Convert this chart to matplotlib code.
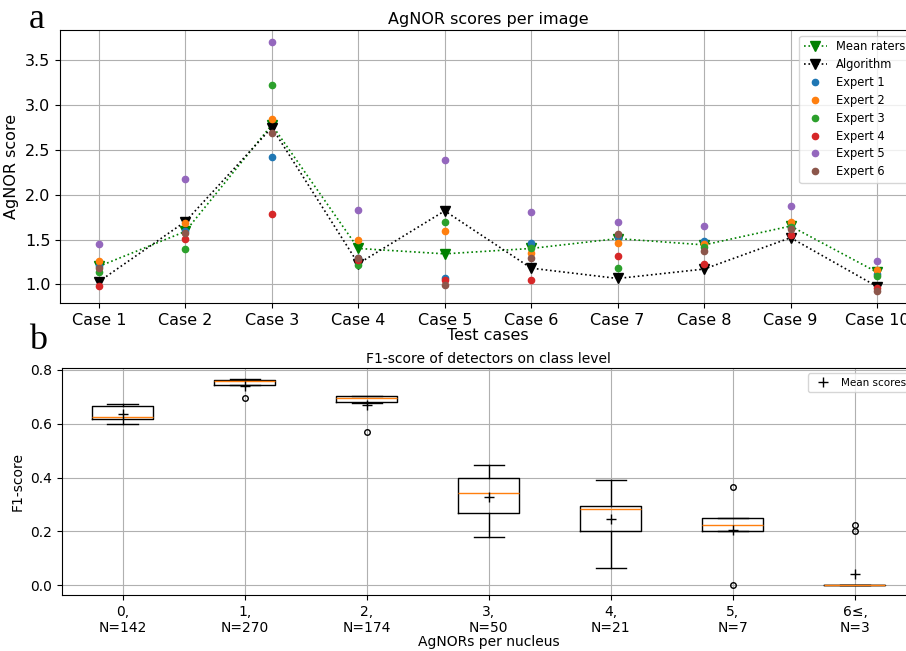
import matplotlib
matplotlib.use('Agg')
import matplotlib.pyplot as plt
import numpy as np

# panel a: AgNOR score per test case
cases = ['Case %d' % i for i in range(1, 11)]
mean_raters = [1.20, 1.59, 2.78, 1.40, 1.34, 1.40, 1.51, 1.44, 1.65, 1.135]
algorithm = [1.03, 1.70, 2.75, 1.23, 1.82, 1.18, 1.065, 1.17, 1.52, 0.975]
expert1 = [1.20, 1.59, 2.42, 1.29, 1.075, 1.46, 1.53, 1.48, 1.64, 1.12]
expert2 = [1.265, 1.68, 2.845, 1.50, 1.59, 1.35, 1.46, 1.45, 1.695, 1.155]
expert3 = [1.14, 1.395, 3.22, 1.22, 1.70, 1.41, 1.18, 1.42, 1.64, 1.095]
expert4 = [0.98, 1.51, 1.78, 1.27, 1.045, 1.05, 1.32, 1.23, 1.555, 0.96]
expert5 = [1.45, 2.17, 3.70, 1.83, 2.39, 1.81, 1.69, 1.655, 1.87, 1.255]
expert6 = [1.18, 1.575, 2.69, 1.29, 0.99, 1.29, 1.56, 1.37, 1.62, 0.93]
experts = [expert1, expert2, expert3, expert4, expert5, expert6]

# panel b: F1 box statistics per class
classes = ['0,\nN=142', '1,\nN=270', '2,\nN=174', '3,\nN=50',
           '4,\nN=21', '5,\nN=7', '6≤,\nN=3']
q1 = [0.619, 0.746, 0.681, 0.267, 0.201, 0.201, 0.0]
med = [0.626, 0.759, 0.695, 0.341, 0.282, 0.223, 0.0]
q3 = [0.666, 0.763, 0.702, 0.397, 0.293, 0.251, 0.0]
whislo = [0.598, 0.746, 0.678, 0.1775, 0.063, 0.201, 0.0]
whishi = [0.673, 0.768, 0.704, 0.4465, 0.391, 0.251, 0.0]
fliers = [[], [0.697], [0.570], [], [], [0.365, 0.0], [0.223, 0.201]]
means = [0.636, 0.742, 0.670, 0.326, 0.246, 0.205, 0.042]

fig = plt.figure(figsize=(9.06, 6.51), dpi=100)

ax1 = fig.add_axes([0.0662, 0.5346, 0.9448, 0.4193])
x = np.arange(len(cases))
ax1.plot(x, mean_raters, 'v:', color='green', markersize=7.5, lw=1.2, label='Mean raters')
ax1.plot(x, algorithm, 'v:', color='black', markersize=7.5, lw=1.2, label='Algorithm')
for i, e in enumerate(experts):
    ax1.plot(x, e, 'o', color='C%d' % i, markersize=4.5, linestyle='none',
             label='Expert %d' % (i + 1))
ax1.set_xticks(x)
ax1.set_xticklabels(cases)
ax1.tick_params(labelsize=11.5)
ax1.set_xlabel('Test cases', fontsize=11.5, labelpad=0)
ax1.set_ylabel('AgNOR score', fontsize=11.5)
ax1.set_title('AgNOR scores per image', fontsize=11.5, pad=4)
ax1.grid(True)
ax1.legend(loc='upper right', fontsize=8.3, labelspacing=0.42)

ax2 = fig.add_axes([0.0681, 0.0855, 0.9429, 0.3488])
stats = []
for i in range(len(classes)):
    stats.append(dict(med=med[i], q1=q1[i], q3=q3[i], whislo=whislo[i],
                      whishi=whishi[i], fliers=fliers[i], mean=means[i]))
ax2.bxp(stats, showmeans=True,
        meanprops=dict(marker='+', markeredgecolor='black', markersize=7),
        flierprops=dict(marker='o', markersize=4, markerfacecolor='none'))
ax2.set_xticks(range(1, len(classes) + 1))
ax2.set_xticklabels(classes)
ax2.plot([], [], '+', color='black', markersize=7, linestyle='none', label='Mean scores')
ax2.set_xlabel('AgNORs per nucleus', labelpad=0)
ax2.set_ylabel('F1-score')
ax2.set_title('F1-score of detectors on class level', fontsize=10, pad=4)
ax2.grid(True)
ax2.legend(loc='upper right', fontsize=7.5)

fig.text(0.032, 0.995, 'a', fontsize=26, family='Liberation Serif', va='top', ha='left')
fig.text(0.032, 0.502, 'b', fontsize=26, family='Liberation Serif', va='top', ha='left')

plt.savefig('out.png', dpi=100)
